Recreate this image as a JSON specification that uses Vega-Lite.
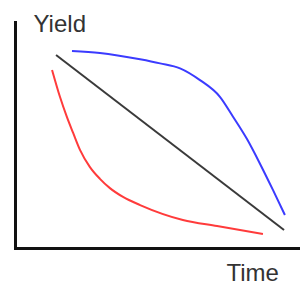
{
  "$schema": "https://vega.github.io/schema/vega-lite/v6.json",
  "width": 285,
  "height": 226,
  "autosize": "none",
  "padding": {"left": 15, "top": 22, "right": 0, "bottom": 37},
  "background": "white",
  "config": {"view": {"stroke": null}},
  "data": {"values": [
    {"series": "black", "t": 14.4, "y": 85.4},
    {"series": "black", "t": 94.4, "y": 8.0},
    {"series": "blue", "t": 20.0, "y": 87.2},
    {"series": "blue", "t": 29.8, "y": 86.3},
    {"series": "blue", "t": 43.9, "y": 83.5},
    {"series": "blue", "t": 50.9, "y": 81.7},
    {"series": "blue", "t": 57.9, "y": 79.5},
    {"series": "blue", "t": 64.9, "y": 74.3},
    {"series": "blue", "t": 71.9, "y": 66.9},
    {"series": "blue", "t": 76.5, "y": 58.1},
    {"series": "blue", "t": 81.4, "y": 48.2},
    {"series": "blue", "t": 86.0, "y": 37.2},
    {"series": "blue", "t": 90.5, "y": 25.7},
    {"series": "blue", "t": 94.7, "y": 14.6},
    {"series": "red", "t": 13.0, "y": 78.8},
    {"series": "red", "t": 15.8, "y": 66.8},
    {"series": "red", "t": 18.2, "y": 58.0},
    {"series": "red", "t": 20.4, "y": 50.9},
    {"series": "red", "t": 22.8, "y": 43.4},
    {"series": "red", "t": 26.3, "y": 35.8},
    {"series": "red", "t": 29.8, "y": 30.6},
    {"series": "red", "t": 33.3, "y": 26.5},
    {"series": "red", "t": 37.9, "y": 22.6},
    {"series": "red", "t": 43.9, "y": 19.0},
    {"series": "red", "t": 58.9, "y": 12.4},
    {"series": "red", "t": 70.9, "y": 9.7},
    {"series": "red", "t": 87.0, "y": 6.2}
  ]},
  "mark": {"type": "line", "interpolate": "monotone", "strokeWidth": 2},
  "encoding": {
    "x": {
      "field": "t", "type": "quantitative",
      "scale": {"domain": [0, 100], "nice": false, "zero": false},
      "axis": {
        "title": "Time", "labels": false, "ticks": false, "grid": false,
        "domainColor": "#111", "domainWidth": 3, "domainCap": "square",
        "titleFont": "Liberation Sans", "titleFontSize": 24, "titleFontWeight": "normal",
        "titleColor": "#333", "titleAlign": "left", "titleBaseline": "alphabetic",
        "titleX": 211, "titleY": 32
      }
    },
    "y": {
      "field": "y", "type": "quantitative",
      "scale": {"domain": [0, 100], "nice": false, "zero": false},
      "axis": {
        "title": "Yield", "labels": false, "ticks": false, "grid": false,
        "domainColor": "#111", "domainWidth": 3, "domainCap": "square",
        "titleFont": "Liberation Sans", "titleFontSize": 24, "titleFontWeight": "normal",
        "titleColor": "#333", "titleAngle": 0, "titleAlign": "left", "titleBaseline": "alphabetic",
        "titleX": 18, "titleY": 9
      }
    },
    "color": {
      "field": "series", "type": "nominal",
      "scale": {"domain": ["red", "black", "blue"], "range": ["#ff3b3b", "#3a3a3a", "#3b3bff"]},
      "legend": null
    },
    "detail": {"field": "series"}
  }
}
